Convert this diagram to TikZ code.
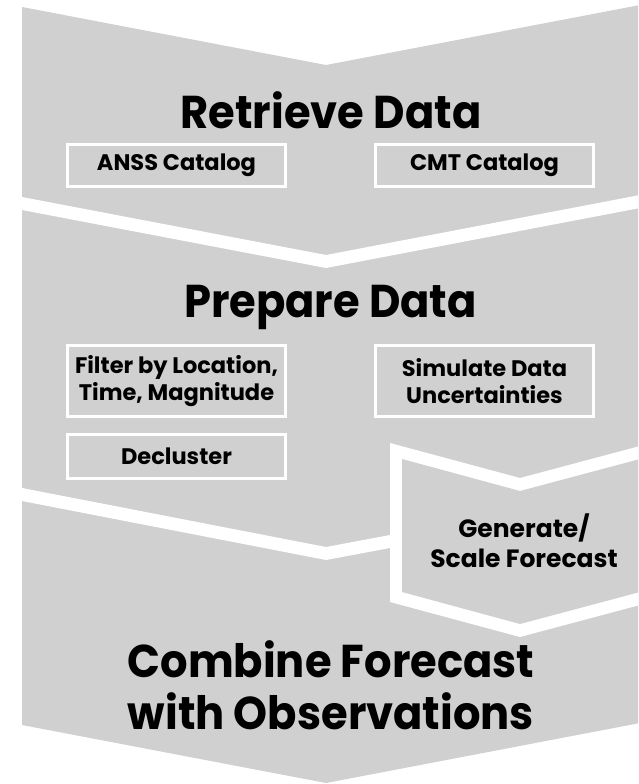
\documentclass[tikz,border=0pt]{standalone}
\usepackage{fontspec}
\setmainfont{Poppins}
\newfontfamily\headfont{Poppins}[FakeStretch=0.94]
\newfontfamily\boxfont{Poppins}
\definecolor{panel}{RGB}{208,208,208}
\tikzset{
  heading/.style={font=\headfont\fontsize{46}{52}\selectfont\bfseries, text=black, inner sep=0pt},
  stepbox/.style={draw=white, line width=3pt, fill=panel, inner sep=0pt, minimum width=218pt,
    align=center, font=\boxfont\fontsize{22.5}{27}\selectfont\bfseries},
  gentext/.style={font=\boxfont\fontsize{25}{30}\selectfont\bfseries, align=center, inner sep=0pt}
}
\begin{document}
\begin{tikzpicture}[x=1pt,y=-1pt]
\useasboundingbox (0,0) rectangle (638,784);
\clip (0,0) rectangle (638,784);
% outer gray chevron column
\fill[panel] (22,7) -- (326,65) -- (640,5) -- (640,723) -- (326,783) -- (22,725) -- cycle;
% white separator bands
\fill[white] (22,197) -- (326,255) -- (640,195) -- (640,208) -- (326,268) -- (22,210) -- cycle;
\fill[white] (22,488) -- (326,547) -- (390,535) -- (390,548) -- (326,560) -- (22,501) -- cycle;
% generate/scale chevron
\fill[white] (390,443) -- (520,478) -- (640,446) -- (640,605) -- (520,637) -- (390,602) -- cycle;
\fill[panel] (402,459) -- (520,491) -- (640,459) -- (640,592) -- (520,624) -- (402,592) -- cycle;

\node[heading, anchor=base] (retrieve) at (331,128) {Retrieve Data};
\node[stepbox, minimum height=42pt] (anss) at (176.5,165.5) {ANSS Catalog};
\node[stepbox, minimum height=42pt] (cmt) at (484.5,165.5) {CMT Catalog};

\node[heading, anchor=base] (prepare) at (330.5,317) {Prepare Data};
\node[stepbox, minimum height=71pt] (filter) at (176.5,381) {Filter by Location,\\Time, Magnitude};
\node[stepbox, minimum height=71pt] (simulate) at (484.5,381) {Simulate Data\\Uncertainties};
\node[stepbox, minimum height=44pt] (decluster) at (176.5,456.5) {Decluster};

\node[gentext] (generate) at (524,541) {Generate/\\Scale Forecast};

\node[heading, align=center] (combine) at (331,685) {Combine Forecast\\with Observations};
\end{tikzpicture}
\end{document}
